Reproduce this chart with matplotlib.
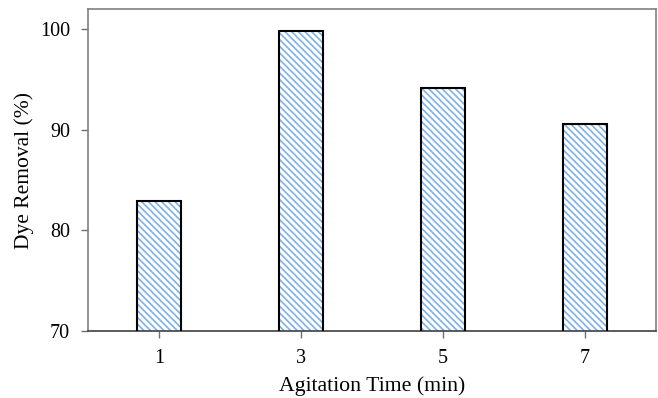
import matplotlib
matplotlib.use("Agg")
import matplotlib.pyplot as plt

times = [1, 3, 5, 7]
removal = [82.9, 99.8, 94.2, 90.6]
yticks = [70, 80, 90, 100]

plt.rcParams['font.family'] = ['Liberation Serif', 'DejaVu Serif']
plt.rcParams['hatch.linewidth'] = 1.2

fig = plt.figure(figsize=(6.58, 3.98), dpi=100)
ax = fig.add_axes([0.1337, 0.1683, 0.997 - 0.1337, 0.977 - 0.1683])

ax.bar(times, removal, width=0.62, bottom=0, color='white', edgecolor='#7fb2e5',
       hatch='\\\\\\\\\\', linewidth=0, zorder=2)
ax.bar(times, removal, width=0.62, bottom=0, fill=False, edgecolor='black',
       linewidth=1.5, zorder=3)

ax.set_xlim(0, 8)
ax.set_ylim(70, 102)
ax.set_xticks(times)
ax.set_yticks(yticks)
ax.tick_params(axis='both', direction='out', length=5, width=1, colors='#707070',
               labelcolor='black', labelsize=14.5)
ax.tick_params(axis='y', pad=8)
ax.tick_params(axis='x', pad=8)
for side in ['left', 'top', 'right']:
    ax.spines[side].set_color('#808080')
    ax.spines[side].set_linewidth(1.2)
ax.spines['bottom'].set_color('#404040')
ax.spines['bottom'].set_linewidth(1.2)

ax.set_xlabel('Agitation Time (min)', fontsize=15.7, labelpad=6)
ax.set_ylabel('Dye Removal (%)', fontsize=15.5, labelpad=4)

fig.savefig('out.png', dpi=100)
